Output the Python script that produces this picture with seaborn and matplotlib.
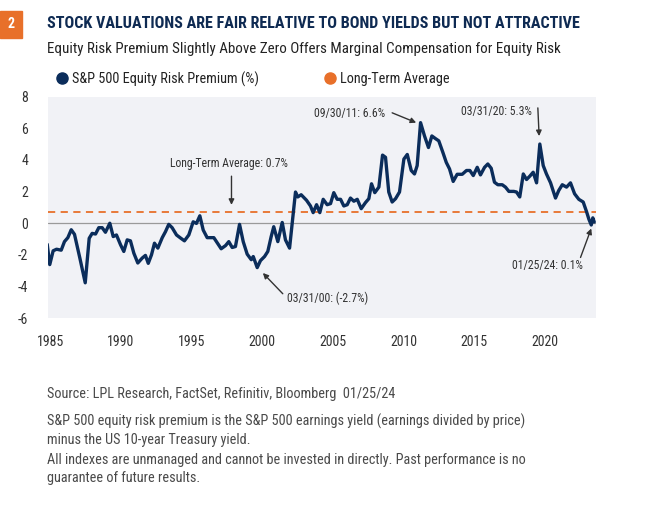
import matplotlib
matplotlib.use("Agg")
import matplotlib.pyplot as plt
import seaborn as sns
import pandas as pd
from matplotlib.lines import Line2D
from matplotlib.patches import Rectangle

# quarterly-ish readings (decimal year, %)
years = [1985.39, 1985.57, 1985.81, 1986.05, 1986.38, 1986.61, 1986.85, 1987.09, 1987.32, 1987.70,
         1988.08, 1988.36, 1988.57, 1988.81, 1989.04, 1989.28, 1989.51, 1989.82, 1990.06, 1990.29,
         1990.58, 1990.81, 1991.05, 1991.28, 1991.52, 1991.80, 1992.11, 1992.34, 1992.54, 1992.77,
         1992.98, 1993.22, 1993.53, 1993.76, 1993.99, 1994.23, 1994.54, 1994.82, 1995.10, 1995.41,
         1995.72, 1995.95, 1996.19, 1996.43, 1996.71, 1997.18, 1997.70, 1998.01, 1998.24, 1998.48,
         1998.71, 1999.00, 1999.26, 1999.54, 1999.83, 1999.97, 2000.25, 2000.48, 2000.77, 2001.00,
         2001.24, 2001.42, 2001.71, 2002.02, 2002.25, 2002.54, 2002.96, 2003.12, 2003.36, 2003.74,
         2004.02, 2004.21, 2004.45, 2004.68, 2004.92, 2005.20, 2005.44, 2005.67, 2005.91, 2006.15,
         2006.38, 2006.62, 2006.85, 2007.09, 2007.33, 2007.61, 2007.91, 2008.15, 2008.34, 2008.57,
         2008.86, 2009.12, 2009.33, 2009.56, 2009.80, 2010.04, 2010.32, 2010.63, 2010.87, 2011.15,
         2011.38, 2011.57, 2011.81, 2012.09, 2012.37, 2012.61, 2012.87, 2013.10, 2013.39, 2013.63,
         2013.86, 2014.12, 2014.40, 2014.76, 2015.06, 2015.30, 2015.54, 2015.82, 2016.05, 2016.34,
         2016.57, 2016.81, 2017.04, 2017.28, 2017.59, 2017.82, 2018.06, 2018.41, 2018.60, 2018.83,
         2019.08, 2019.31, 2019.54, 2019.78, 2020.02, 2020.25, 2020.49, 2020.72, 2021.01, 2021.36,
         2021.59, 2021.84, 2022.14, 2022.42, 2022.71, 2023.01, 2023.32, 2023.56, 2023.72, 2023.89,
         2024.00, 2024.10]
erp = [-1.33, -2.61, -1.74, -1.64, -1.70, -1.16, -0.91, -0.41, -0.70, -2.20,
       -3.76, -0.95, -0.64, -0.68, -0.28, -0.28, -0.57, 0.00, -0.84, -0.74,
       -1.36, -1.78, -1.05, -1.11, -1.89, -2.51, -2.20, -2.03, -2.53, -1.99,
       -1.26, -1.57, -0.91, -0.53, -0.07, -0.28, -0.74, -0.93, -1.11, -0.74,
       0.09, -0.01, 0.47, -0.43, -0.91, -0.91, -1.61, -1.41, -1.16, -1.53,
       -1.47, -0.07, -1.16, -1.95, -2.30, -2.10, -2.80, -2.36, -2.10, -1.78,
       -0.84, -0.22, -1.16, 0.05, -1.05, -1.57, 1.97, 1.66, 1.80, 1.45,
       1.09, 0.67, 1.17, 0.67, 1.51, 1.17, 1.24, 1.93, 1.51, 1.51,
       1.09, 1.17, 1.59, 1.39, 1.51, 0.92, 1.30, 1.55, 2.49, 1.93,
       2.28, 4.30, 4.16, 1.97, 1.34, 1.55, 1.97, 4.05, 4.34, 3.33,
       3.11, 3.64, 6.35, 5.51, 4.78, 5.51, 5.34, 5.20, 4.47, 3.84,
       3.43, 2.64, 3.09, 3.09, 3.33, 3.33, 3.01, 3.53, 3.05, 3.53,
       3.74, 3.47, 2.59, 2.43, 2.43, 2.28, 2.01, 2.01, 1.97, 1.66,
       3.11, 2.76, 2.97, 3.22, 2.55, 5.00, 3.64, 3.11, 2.55, 1.59,
       2.07, 2.43, 2.28, 2.55, 1.86, 1.51, 1.34, 0.72, 0.26, -0.11,
       0.34, 0.08]
long_term_avg = 0.7
tick_years = [1985, 1990, 1995, 2000, 2005, 2010, 2015, 2020]
y_ticks = [-6, -4, -2, 0, 2, 4, 6, 8]

NAVY = "#0B2D5B"
ORANGE = "#E8702A"
TXT = "#333333"
narrow = ["Liberation Sans Narrow", "Roboto Condensed", "Roboto", "DejaVu Sans"]

sns.set_style("white")
plt.rcParams["font.family"] = narrow

df = pd.DataFrame({"year": years, "erp": erp})

fig = plt.figure(figsize=(6.7, 5.08), dpi=100)
ax = fig.add_axes([47.5 / 670, 189.7 / 508, 548 / 670, 221.8 / 508])
ax.set_facecolor("#F1F2F6")

ax.axhline(0, color="#9a9a9a", lw=0.9, zorder=1)
ax.axhline(long_term_avg, color=ORANGE, lw=1.3, ls=(0, (4, 3)), zorder=2)
sns.lineplot(data=df, x="year", y="erp", color=NAVY, lw=2.4, ax=ax, zorder=3)

ax.set_xlim(1985.41, 2024.19)
ax.set_ylim(-6, 8)
ax.set_xticks([y + 0.6 for y in tick_years])
ax.set_xticklabels([str(y) for y in tick_years])
ax.set_yticks(y_ticks)
ax.set_yticklabels([str(v) for v in y_ticks])
ax.tick_params(axis="both", length=0, labelsize=10, labelcolor=TXT)
ax.tick_params(axis="y", pad=14)
ax.tick_params(axis="x", pad=12)
ax.set_xlabel("")
ax.set_ylabel("")
for s in ax.spines.values():
    s.set_visible(False)

arrow = dict(arrowstyle="-|>", color=TXT, lw=1, mutation_scale=8, shrinkA=0, shrinkB=0)
ax.annotate("", xy=(1998.43, 1.16), xytext=(1998.43, 2.97), arrowprops=arrow)
ax.text(1998.22, 3.74, "Long-Term Average: 0.7%", ha="center", va="center", fontsize=8.5, color=TXT)
ax.annotate("", xy=(2011.5, 6.35), xytext=(2009.8, 6.97), arrowprops=arrow)
ax.text(2009.33, 6.93, "09/30/11: 6.6%", ha="right", va="center", fontsize=8.5, color=TXT)
ax.annotate("", xy=(2020.2, 5.5), xytext=(2020.11, 7.28), arrowprops=arrow)
ax.text(2019.66, 7.03, "03/31/20: 5.3%", ha="right", va="center", fontsize=8.5, color=TXT)
ax.annotate("", xy=(2023.89, -0.33), xytext=(2023.13, -2.16), arrowprops=arrow)
ax.text(2020.8, -2.66, "01/25/24: 0.1%", ha="center", va="center", fontsize=8.5, color=TXT)
ax.annotate("", xy=(2000.65, -3.14), xytext=(2002.06, -4.45), arrowprops=arrow)
ax.text(2002.37, -4.74, "03/31/00: (-2.7%)", ha="left", va="center", fontsize=8.5, color=TXT)

# header
fig.patches.append(Rectangle((0, 1 - 38 / 508), 22 / 670, 27 / 508, transform=fig.transFigure,
                             color=ORANGE, zorder=0))
fig.text(11 / 670, 1 - 24.5 / 508, "2", ha="center", va="center", color="white",
         fontsize=10, fontweight="bold")
fig.text(47 / 670, 1 - 24 / 508, "STOCK VALUATIONS ARE FAIR RELATIVE TO BOND YIELDS BUT NOT ATTRACTIVE",
         ha="left", va="center", color="#0E2A52", fontsize=11.65, fontweight="bold")
fig.text(47 / 670, 1 - 49 / 508,
         "Equity Risk Premium Slightly Above Zero Offers Marginal Compensation for Equity Risk",
         ha="left", va="center", color="#222222", fontsize=10.8)

handles = [Line2D([], [], ls="", marker="o", ms=8, color=NAVY),
           Line2D([], [], ls="", marker="o", ms=8, color=ORANGE)]
fig.legend(handles, ["S&P 500 Equity Risk Premium (%)", "Long-Term Average"],
           loc="center left", bbox_to_anchor=(43 / 670, 1 - 79 / 508), ncol=2, frameon=False,
           handlelength=0.8, handletextpad=0.3, columnspacing=4.6, fontsize=10.3,
           labelcolor="#222222")

# footer
foot = "#4a4a4a"
fsz = 10.3
fig.text(47 / 670, 1 - 394 / 508, "Source: LPL Research, FactSet, Refinitiv, Bloomberg  01/25/24",
         ha="left", va="center", color=foot, fontsize=fsz)
fig.text(47 / 670, 1 - 421 / 508,
         "S&P 500 equity risk premium is the S&P 500 earnings yield (earnings divided by price)",
         ha="left", va="center", color=foot, fontsize=fsz)
fig.text(47 / 670, 1 - 440 / 508, "minus the US 10-year Treasury yield.",
         ha="left", va="center", color=foot, fontsize=fsz)
fig.text(47 / 670, 1 - 460 / 508,
         "All indexes are unmanaged and cannot be invested in directly. Past performance is no",
         ha="left", va="center", color=foot, fontsize=fsz)
fig.text(47 / 670, 1 - 478 / 508, "guarantee of future results.",
         ha="left", va="center", color=foot, fontsize=fsz)

fig.savefig("out.png", dpi=100, facecolor="white")
